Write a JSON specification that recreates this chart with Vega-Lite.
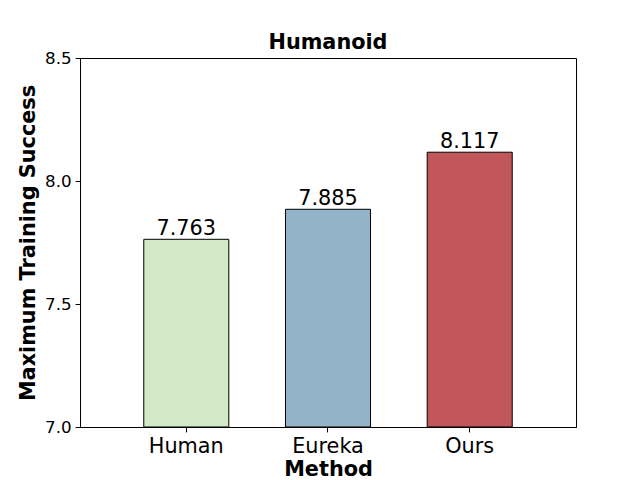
{
  "$schema": "https://vega.github.io/schema/vega-lite/v6.json",
  "autosize": "none",
  "padding": {"left": 80, "top": 58, "right": 64, "bottom": 53},
  "width": 496,
  "height": 369,
  "background": "white",
  "config": {
    "font": "DejaVu Sans",
    "view": {"stroke": "black", "strokeWidth": 1}
  },
  "title": {
    "text": "Humanoid",
    "font": "DejaVu Sans",
    "fontSize": 20.8,
    "fontWeight": "bold",
    "color": "black",
    "offset": -4
  },
  "data": {
    "values": [
      {"method": "Human", "value": 7.763},
      {"method": "Eureka", "value": 7.885},
      {"method": "Ours", "value": 8.117}
    ]
  },
  "encoding": {
    "x": {
      "field": "method",
      "type": "nominal",
      "sort": ["Human", "Eureka", "Ours"],
      "scale": {"paddingInner": 0.4, "paddingOuter": 0.45},
      "axis": {
        "title": "Method",
        "titleFont": "DejaVu Sans",
        "titleFontSize": 20.8,
        "titleFontWeight": "bold",
        "titleColor": "black",
        "titlePadding": 3,
        "labelFont": "DejaVu Sans",
        "labelFontSize": 20.8,
        "labelColor": "black",
        "labelAngle": 0,
        "labelPadding": 5,
        "tickColor": "black",
        "tickSize": 4.9,
        "domainColor": "black"
      }
    },
    "y": {
      "field": "value",
      "type": "quantitative",
      "scale": {"domain": [7.0, 8.5], "zero": false, "nice": false},
      "axis": {
        "title": "Maximum Training Success",
        "titleFont": "DejaVu Sans",
        "titleFontSize": 20.8,
        "titleFontWeight": "bold",
        "titleColor": "black",
        "titlePadding": 6,
        "values": [7.0, 7.5, 8.0, 8.5],
        "format": ".1f",
        "labelFont": "DejaVu Sans",
        "labelFontSize": 16.7,
        "labelColor": "black",
        "labelPadding": 4,
        "tickColor": "black",
        "tickSize": 4.9,
        "domainColor": "black",
        "grid": false
      }
    }
  },
  "layer": [
    {
      "mark": {"type": "bar", "stroke": "black", "strokeWidth": 1},
      "encoding": {
        "y2": {"datum": 7.0},
        "color": {
          "field": "method",
          "type": "nominal",
          "scale": {"domain": ["Human", "Eureka", "Ours"], "range": ["#d2e8c7", "#93b4c8", "#c1575a"]},
          "legend": null
        }
      }
    },
    {
      "mark": {"type": "text", "baseline": "bottom", "dy": 0, "fontSize": 20.8, "font": "DejaVu Sans", "color": "black"},
      "encoding": {
        "text": {"field": "value", "type": "quantitative", "format": ".3f"}
      }
    }
  ]
}
